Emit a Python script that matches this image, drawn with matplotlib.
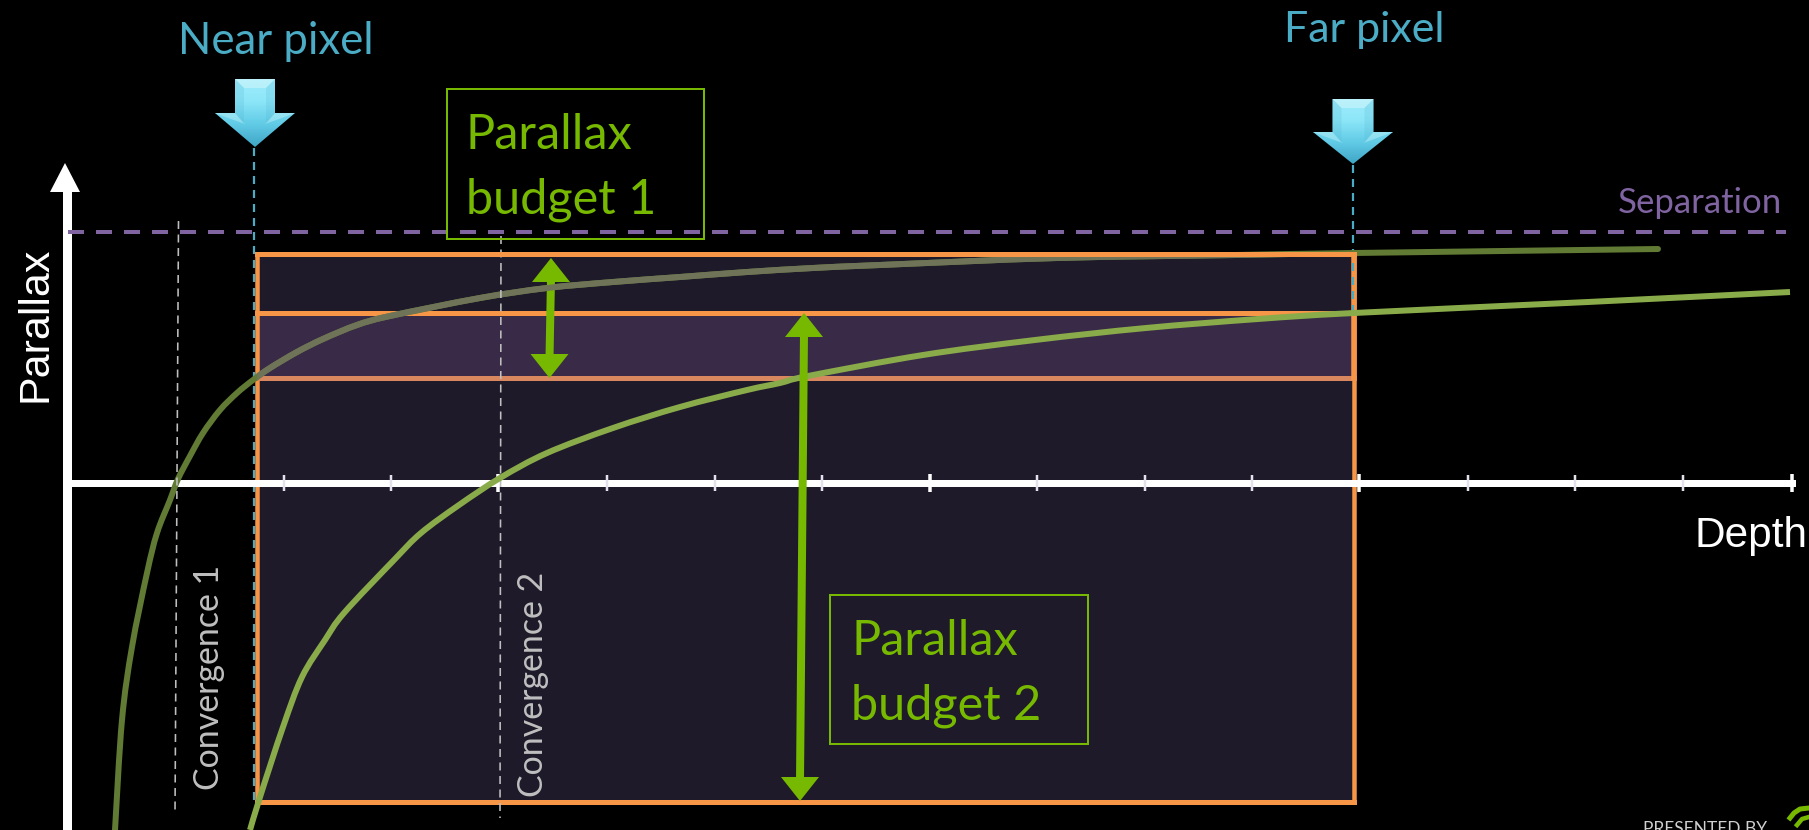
import numpy as np
import matplotlib
matplotlib.use('Agg')
import matplotlib.pyplot as plt
from matplotlib.patches import Polygon, Rectangle, PathPatch
from matplotlib.path import Path

plt.rcParams['lines.scale_dashes'] = False

# depth is measured from the parallax axis, parallax from the depth axis
curve1_depth = [48, 55, 65, 80, 90, 103, 111, 123, 136, 153, 170, 186, 203, 230, 256, 290, 323, 413, 480, 546, 613, 680, 746, 813, 990, 1169, 1287, 1591]
curve1_parallax = [-347, -237, -164, -90, -50, -17, 4, 27, 50, 73, 90, 103, 115, 131, 144, 158, 167, 185, 195, 201, 206, 211, 215, 218, 225, 228, 230, 234]

curve2_depth = [183, 193, 216, 235, 258, 277, 327, 354, 392, 433, 480, 546, 613, 680, 713, 741, 856, 968, 1079, 1191, 1287, 1521, 1723]
curve2_parallax = [-347, -314, -244, -194, -157, -130, -77, -50, -22, 5, 30, 55, 76, 93, 100, 107, 128, 143, 155, 164, 170, 181, 191]

major_ticks = [431, 863, 1292, 1725]
minor_ticks = [217, 324, 540, 648, 755, 970, 1078, 1185, 1401, 1508, 1616]

separation = 251
near_pixel = 190
far_pixel = 1287
box_bottom = -319
box_top = 229
band_bottom = 105
band_top = 170

conv1_depth = [111.5, 108]
conv1_parallax = [262, -332]
conv2_depth = [434, 433]
conv2_parallax = [247, -335]

ORANGE = '#f79646'
GREEN = '#76b900'
TEAL = '#4bacc6'
PURPLE = '#8064a2'
GREY = '#bfbfbf'
PX = 0.72  # one pixel in points at dpi 100


def smooth_path(xs, ys):
    # bezier segments through the read points, so the curve has no corners
    p = np.column_stack([xs, ys]).astype(float)
    verts = [p[0]]
    codes = [Path.MOVETO]
    for i in range(len(p) - 1):
        before = p[max(i - 1, 0)]
        after = p[min(i + 2, len(p) - 1)]
        verts += [p[i] + (p[i + 1] - before) / 6, p[i + 1] - (after - p[i]) / 6, p[i + 1]]
        codes += [Path.CURVE4] * 3
    return Path(verts, codes)


fig = plt.figure(figsize=(18.09, 8.30), dpi=100, facecolor='black')
ax = fig.add_axes([0, 0, 1, 1], facecolor='black')
ax.set_axisbelow(False)

for s in ['top', 'right']:
    ax.spines[s].set_visible(False)
ax.spines['left'].set_position(('data', 0))
ax.spines['bottom'].set_position(('data', 0))
ax.spines['left'].set_color('white')
ax.spines['bottom'].set_color('white')
ax.spines['left'].set_linewidth(9 * PX)
ax.spines['bottom'].set_linewidth(7 * PX)
ax.spines['left'].set_bounds(-347, 295)
ax.spines['bottom'].set_bounds(0, 1725)
ax.set_xticks(major_ticks)
ax.set_xticks(minor_ticks, minor=True)
ax.set_yticks([])
ax.tick_params(axis='x', which='major', direction='inout', length=18 * PX, width=3.5 * PX,
               color='white', labelbottom=False)
ax.tick_params(axis='x', which='minor', direction='inout', length=16 * PX, width=2.5 * PX,
               color='#e4e0ec', labelbottom=False)

# boxes
outer = Rectangle((near_pixel, box_bottom), far_pixel - near_pixel, box_top - box_bottom,
                  facecolor='#1e1a2a', edgecolor='none', zorder=1)
ax.add_patch(outer)
ax.add_patch(Rectangle((near_pixel, band_bottom), far_pixel - near_pixel, band_top - band_bottom,
                       facecolor='#392a48', edgecolor='none', zorder=1.1))

# pixel guides
ax.plot([near_pixel - 3, near_pixel - 3], [335, box_bottom], color=TEAL, lw=2.2 * PX,
        dashes=(8 * PX, 6 * PX), zorder=1.5)
ax.plot([far_pixel - 1, far_pixel - 1], [318, band_top], color=TEAL, lw=2.2 * PX,
        dashes=(8 * PX, 6 * PX), zorder=2.2)

ax.plot([near_pixel, near_pixel], [box_top, box_bottom], color=ORANGE, lw=4.5 * PX, zorder=2)
ax.plot([far_pixel, far_pixel], [box_top, box_bottom], color=ORANGE, lw=4.5 * PX, zorder=2)
ax.plot([near_pixel, far_pixel], [box_bottom, box_bottom], color=ORANGE, lw=5 * PX, zorder=2,
        solid_capstyle='projecting')
ax.plot([near_pixel, far_pixel], [band_top, band_top], color=ORANGE, lw=5 * PX, zorder=2)
ax.plot([near_pixel, far_pixel], [band_bottom, band_bottom], color='#d9875e', lw=5 * PX, zorder=2)
ax.plot([far_pixel, far_pixel], [band_bottom, box_top], color=ORANGE, lw=5.5 * PX, zorder=2.1)

# curves
path1 = smooth_path(curve1_depth, curve1_parallax)
path2 = smooth_path(curve2_depth, curve2_parallax)
ax.add_patch(PathPatch(path1, facecolor='none', edgecolor='#617a34', lw=6 * PX, zorder=3, capstyle='round'))
faded = PathPatch(path1, facecolor='none', edgecolor='#6f7459', lw=6 * PX, zorder=3.1)
ax.add_patch(faded)
faded.set_clip_path(outer)
ax.add_patch(PathPatch(path2, facecolor='none', edgecolor='#8aab4a', lw=6 * PX, zorder=4, capstyle='butt'))

ax.plot([near_pixel, far_pixel], [box_top, box_top], color=ORANGE, lw=5 * PX, zorder=4.5,
        solid_capstyle='projecting')

# separation and convergence
ax.plot([1, 1719], [separation, separation], color=PURPLE, lw=4 * PX,
        dashes=(16 * PX, 12 * PX), zorder=3.5)
ax.plot(conv1_depth, conv1_parallax, color=GREY, lw=1.6 * PX, dashes=(8 * PX, 5.5 * PX), zorder=3.2)
ax.plot(conv2_depth, conv2_parallax, color=GREY, lw=1.6 * PX, dashes=(8 * PX, 5.5 * PX), zorder=3.2)

# parallax axis head
ax.add_patch(Polygon([(-17, 291), (13, 291), (-2, 320)], facecolor='white', edgecolor='none', zorder=3))


def budget_arrow(x_top, y_top, x_bot, y_bot, z):
    ax.plot([x_top, x_bot], [y_top - 20, y_bot + 20], color=GREEN, lw=8 * PX, zorder=z, solid_capstyle='butt')
    ax.add_patch(Polygon([(x_top - 19, y_top - 24), (x_top + 19, y_top - 24), (x_top, y_top)],
                         facecolor=GREEN, edgecolor='none', zorder=z))
    ax.add_patch(Polygon([(x_bot - 19, y_bot + 24), (x_bot + 19, y_bot + 24), (x_bot, y_bot)],
                         facecolor=GREEN, edgecolor='none', zorder=z))


budget_arrow(484, 225, 482.5, 105, 3.05)
budget_arrow(737, 170, 733, -318, 5)


def pixel_arrow(cx, top, shoulder, tip, half_shaft, half_wing):
    outline = [(cx - half_shaft, top), (cx + half_shaft, top), (cx + half_shaft, shoulder),
               (cx + half_wing, shoulder), (cx, tip), (cx - half_wing, shoulder),
               (cx - half_shaft, shoulder)]
    shape = Polygon(outline, facecolor='none', edgecolor='none', zorder=6)
    ax.add_patch(shape)
    grad = np.linspace(0, 1, 64).reshape(-1, 1)
    img = ax.imshow(grad, extent=(cx - half_wing, cx + half_wing, tip, top), aspect='auto',
                    cmap=matplotlib.colors.LinearSegmentedColormap.from_list(
                        'arrow', ['#a0ecfb', '#8ce6f8', '#62cbe6', '#3fa6c6']),
                    origin='upper', zorder=6)
    img.set_clip_path(shape)
    # bevels
    b = 9
    ax.add_patch(Polygon([(cx - half_shaft, top), (cx + half_shaft, top), (cx + half_shaft - b, top - b),
                          (cx - half_shaft + b, top - b)], facecolor='#d2f6fb', alpha=0.55, edgecolor='none', zorder=7))
    ax.add_patch(Polygon([(cx - half_wing, shoulder), (cx - half_shaft, shoulder), (cx - half_shaft + 10, shoulder - 11),
                          (cx - half_wing + 16, shoulder - 6)], facecolor='#b8f0f8', alpha=0.5, edgecolor='none', zorder=7))
    ax.add_patch(Polygon([(cx + half_wing, shoulder), (cx + half_shaft, shoulder), (cx + half_shaft - 10, shoulder - 11),
                          (cx + half_wing - 16, shoulder - 6)], facecolor='#b8f0f8', alpha=0.5, edgecolor='none', zorder=7))
    ax.add_patch(Polygon([(cx - half_shaft, top), (cx - half_shaft + b, top - b), (cx - half_shaft + b, shoulder - 11),
                          (cx - half_shaft, shoulder)], facecolor='#4fb0cf', alpha=0.2, edgecolor='none', zorder=7))
    ax.add_patch(Polygon([(cx + half_shaft, top), (cx + half_shaft - b, top - b), (cx + half_shaft - b, shoulder - 11),
                          (cx + half_shaft, shoulder)], facecolor='#4fb0cf', alpha=0.2, edgecolor='none', zorder=7))


pixel_arrow(188, 404, 370, 336, 20, 40)
pixel_arrow(1286, 384, 351, 319, 20.5, 40)

# text boxes
ax.add_patch(Rectangle((379.5, 244), 257.5, 150, facecolor='none', edgecolor=GREEN, lw=2 * PX, zorder=5))
ax.add_patch(Rectangle((763, -261), 258, 149, facecolor='none', edgecolor=GREEN, lw=2 * PX, zorder=5))

sans = ['Lato', 'DejaVu Sans']
ax.text(399, 334, 'Parallax', color=GREEN, fontsize=35, family=sans, va='baseline', zorder=6)
ax.text(399, 270, 'budget 1', color=GREEN, fontsize=35, family=sans, va='baseline', zorder=6)
ax.text(784, -172, 'Parallax', color=GREEN, fontsize=35, family=sans, va='baseline', zorder=6)
ax.text(784, -236, 'budget 2', color=GREEN, fontsize=35, family=sans, va='baseline', zorder=6)
ax.text(111, 429, 'Near pixel', color=TEAL, fontsize=31.5, family=sans, va='baseline')
ax.text(1217, 441, 'Far pixel', color=TEAL, fontsize=31, family=sans, va='baseline')
ax.text(1551, 270, 'Separation', color=PURPLE, fontsize=25, family=sans, va='baseline')
ax.text(152, -307, 'Convergence 1', color=GREY, fontsize=24.4, family=sans, rotation=90,
        rotation_mode='anchor', ha='left', va='baseline')
ax.text(476, -314, 'Convergence 2', color=GREY, fontsize=24.4, family=sans, rotation=90,
        rotation_mode='anchor', ha='left', va='baseline')
ax.text(-21, 81, 'Parallax', color='white', fontsize=31, family='Liberation Sans', rotation=90,
        rotation_mode='anchor', ha='left', va='baseline')
ax.text(1627, -64, 'Depth', color='white', fontsize=30.5, family='Liberation Sans', va='baseline')
ax.text(1576, -351, 'PRESENTED BY', color='#cfcfcf', fontsize=12.5, family=sans, va='baseline')

# corner logo
ax.plot([1723, 1727, 1733, 1742], [-335, -330, -326, -325], color=GREEN, lw=5 * PX, zorder=6)
ax.plot([1730, 1735, 1742], [-342, -336, -334], color=GREEN, lw=4.5 * PX, zorder=6)

ax.set_xlim(-67, 1742)
ax.set_ylim(-347, 483)

fig.savefig('out.png', dpi=100, facecolor='black')
